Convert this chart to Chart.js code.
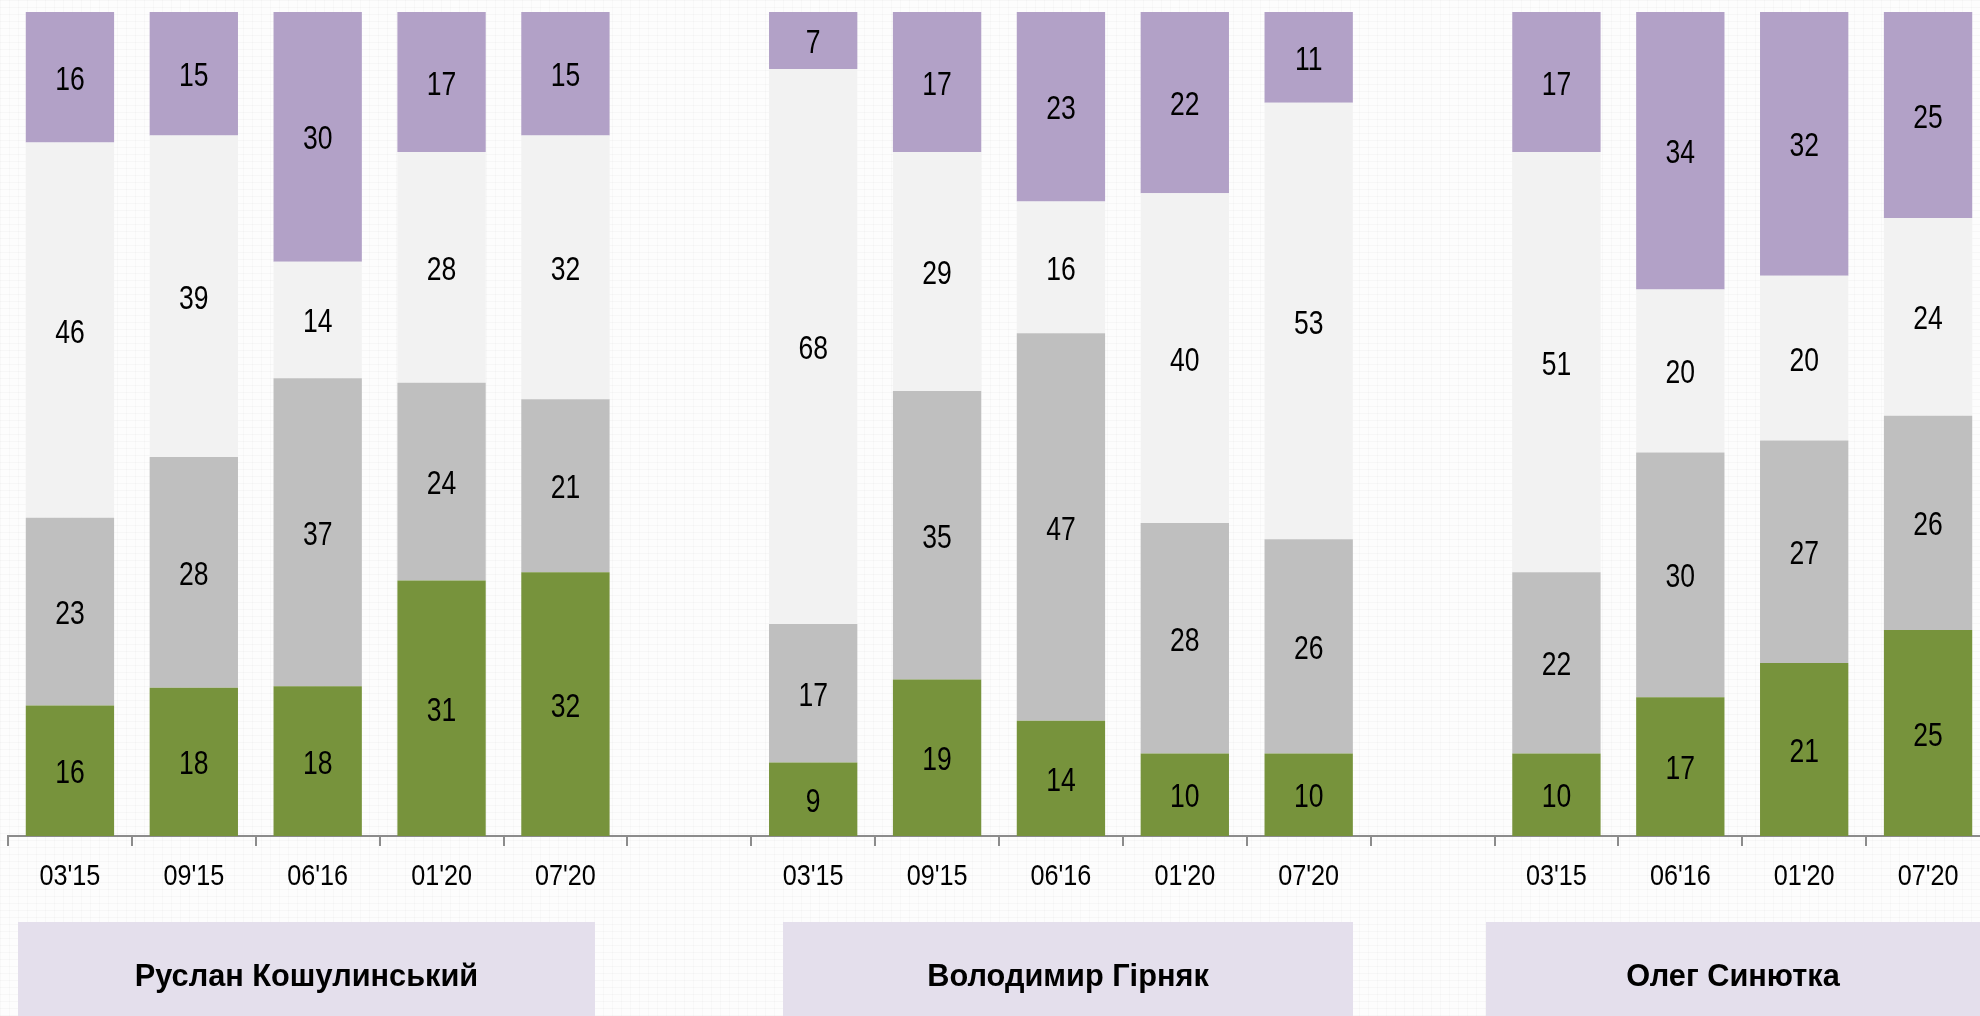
<!DOCTYPE html>
<html>
<head>
<meta charset="utf-8">
<script src="https://cdn.jsdelivr.net/npm/chart.js@4.4.1/dist/chart.umd.min.js"></script>
<style>
  html, body { margin: 0; padding: 0; overflow: hidden; }
  body {
    width: 1980px; height: 1016px;
    background-color: #fdfdfd;
    background-image:
      repeating-linear-gradient(0deg, rgba(0,0,0,0.025) 0px, rgba(0,0,0,0.025) 1px, transparent 1px, transparent 7px),
      repeating-linear-gradient(90deg, rgba(0,0,0,0.02) 0px, rgba(0,0,0,0.02) 1px, transparent 1px, transparent 9px);
  }
  #wrap { position: absolute; left: 0; top: 0; width: 1990px; height: 1016px; }
</style>
</head>
<body>
<div id="wrap"><canvas id="chart"></canvas></div>
<script>
// empty categories split the three candidates
const categories = ["03'15", "09'15", "06'16", "01'20", "07'20", "",
                    "03'15", "09'15", "06'16", "01'20", "07'20", "",
                    "03'15", "06'16", "01'20", "07'20"];
const positive  = [16, 18, 18, 31, 32, null,  9, 19, 14, 10, 10, null, 10, 17, 21, 25];
const neutral   = [23, 28, 37, 24, 21, null, 17, 35, 47, 28, 26, null, 22, 30, 27, 26];
const undecided = [46, 39, 14, 28, 32, null, 68, 29, 16, 40, 53, null, 51, 20, 20, 24];
const negative  = [16, 15, 30, 17, 15, null,  7, 17, 23, 22, 11, null, 17, 34, 32, 25];
const groupNames = ['Руслан Кошулинський', 'Володимир Гірняк', 'Олег Синютка'];

const FONT = "'Liberation Sans', Arial, sans-serif";

// bars are drawn as shares of 100, labels keep the raw numbers
const totals = categories.map((_, i) =>
    positive[i] == null ? null : positive[i] + neutral[i] + undecided[i] + negative[i]);
const share = arr => arr.map((v, i) => v == null ? null : v / totals[i] * 100);

const series = [
    { label: 'positive', raw: positive, color: '#77933c' },
    { label: 'neutral', raw: neutral, color: '#bfbfbf' },
    { label: 'undecided', raw: undecided, color: '#f2f2f2' },
    { label: 'negative', raw: negative, color: '#b2a1c7' }
];

// no narrow font installed, so squeeze text horizontally
function narrowText(ctx, text, x, y, sx) {
    ctx.save();
    ctx.translate(x, y);
    ctx.scale(sx, 1);
    ctx.fillText(text, 0, 0);
    ctx.restore();
}

const valueLabels = {
    id: 'valueLabels',
    afterDatasetsDraw(chart) {
        const ctx = chart.ctx;
        ctx.save();
        ctx.font = '34px ' + FONT;
        ctx.fillStyle = '#000';
        ctx.textAlign = 'center';
        ctx.textBaseline = 'alphabetic';
        chart.data.datasets.forEach((ds, di) => {
            chart.getDatasetMeta(di).data.forEach((bar, i) => {
                const v = ds.raw[i];
                if (v == null) return;
                narrowText(ctx, String(v), bar.x, (bar.y + bar.base) / 2 + 12.5, 0.78);
            });
        });
        ctx.restore();
    }
};

const tickLabels = {
    id: 'tickLabels',
    afterDraw(chart) {
        const ctx = chart.ctx;
        const xs = chart.scales.x;
        ctx.save();
        ctx.font = '30px ' + FONT;
        ctx.fillStyle = '#000';
        ctx.textAlign = 'center';
        ctx.textBaseline = 'alphabetic';
        xs.ticks.forEach((t, i) => {
            const lbl = categories[i];
            if (!lbl) return;
            narrowText(ctx, lbl, xs.getPixelForTick(i), 885, 0.84);
        });
        ctx.restore();
    }
};

// name boxes under each group
const boxSpans = [[18, 595], [783, 1353], [1486, 1990]];
const nameBoxes = {
    id: 'nameBoxes',
    afterDraw(chart) {
        const ctx = chart.ctx;
        ctx.save();
        boxSpans.forEach((s, k) => {
            ctx.fillStyle = '#e4dfec';
            ctx.fillRect(s[0], 922, s[1] - s[0], 100);
            ctx.fillStyle = '#000';
            ctx.font = 'bold 32px ' + FONT;
            ctx.textAlign = 'center';
            ctx.textBaseline = 'alphabetic';
            const cx = k === 2 ? (s[0] + 1980) / 2 : (s[0] + s[1]) / 2;
            narrowText(ctx, groupNames[k], cx, 986, 0.96);
        });
        ctx.restore();
    }
};

new Chart(document.getElementById('chart'), {
    type: 'bar',
    data: {
        labels: categories,
        datasets: series.map(s => ({
            label: s.label,
            data: share(s.raw),
            raw: s.raw,
            backgroundColor: s.color,
            borderWidth: 0,
            barPercentage: 0.713,
            categoryPercentage: 1
        }))
    },
    options: {
        responsive: true,
        maintainAspectRatio: false,
        animation: false,
        layout: { padding: { left: 8, right: 0, top: 12, bottom: 0 } },
        plugins: {
            legend: { display: false },
            tooltip: { enabled: false }
        },
        scales: {
            x: {
                stacked: true,
                grid: {
                    display: true,
                    drawOnChartArea: false,
                    drawTicks: true,
                    tickLength: 10,
                    color: '#8c8c8c',
                    lineWidth: 2,
                    offset: true
                },
                border: { display: true, color: '#8c8c8c', width: 2 },
                ticks: { display: false, autoSkip: false, maxRotation: 0 },
                afterFit(scale) { scale.height = 1016 - 835 - 1; }
            },
            y: {
                stacked: true,
                display: false,
                min: 0,
                max: 100
            }
        }
    },
    plugins: [valueLabels, tickLabels, nameBoxes]
});
</script>
</body>
</html>
